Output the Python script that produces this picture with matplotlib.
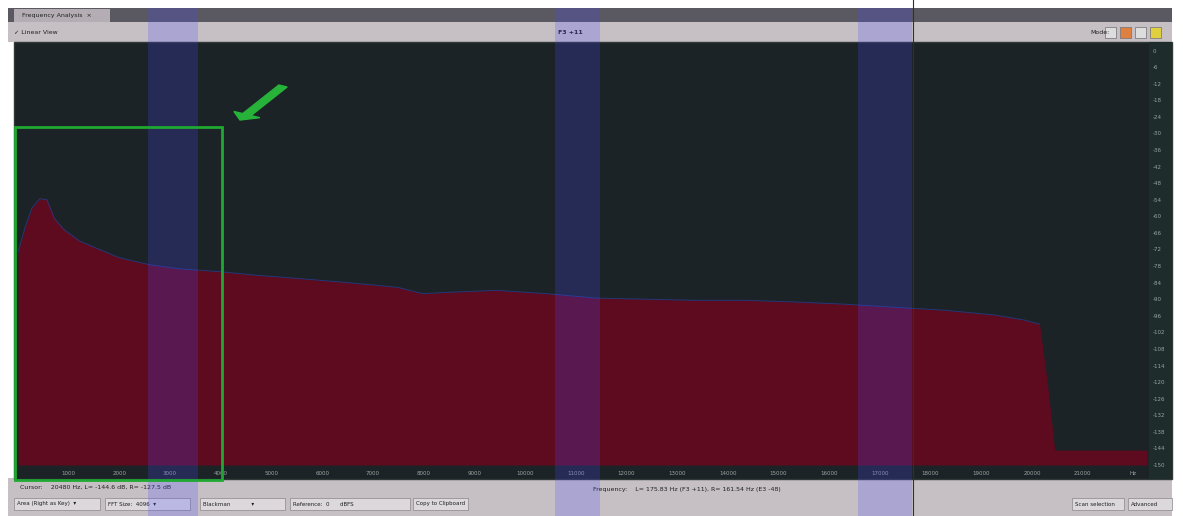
import matplotlib

matplotlib.use("Agg")
import matplotlib.pyplot as plt
from matplotlib.patches import Rectangle, FancyArrow

# spectrum (Hz, dB)
freq_hz = [0, 140, 275, 430, 570, 725, 920, 1220, 1610, 2000, 2590, 3180,
           3960, 4750, 5530, 6510, 7490, 7980, 8470, 9450, 10430, 11410,
           12390, 13370, 14350, 15330, 16310, 17290, 18280, 19260, 19840,
           20150, 20300, 20450, 22270]
level_db = [-73, -64, -57, -53.6, -54, -61, -65, -69, -72, -75, -77.5, -79,
            -80, -81.4, -82.5, -84, -85.7, -88, -87.5, -86.8, -88, -89.6,
            -90, -90.4, -90.4, -91, -91.8, -92.9, -94, -95.7, -97.5, -99,
            -119.6, -144.6, -144.6]

x_ticks = list(range(1000, 22000, 1000))
y_ticks = list(range(0, -151, -6))

W, H = 1183, 516
BG = "#1c2326"
CHROME = "#c6c0c5"


def fx(px):
    return px / W


def fy(py):
    return 1 - py / H


fig = plt.figure(figsize=(W / 100, H / 100), dpi=100)
fig.patch.set_facecolor("white")


def box(x0, y0, x1, y1, **kw):
    fig.patches.append(Rectangle((fx(x0), fy(y1)), fx(x1 - x0), (y1 - y0) / H,
                                 transform=fig.transFigure, **kw))


# window chrome
box(8, 8, 1172, 42, facecolor=CHROME, edgecolor="none")
box(8, 8, 1172, 22, facecolor="#5a5860", edgecolor="none")
box(14, 9, 110, 22, facecolor="#b4aeb4", edgecolor="none")
box(8, 478, 1172, 516, facecolor=CHROME, edgecolor="none")
box(14, 42, 1172, 479, facecolor=BG, edgecolor="#303838")
box(1149, 42, 1172, 479, facecolor="#1f2c2c", edgecolor="none")

ax = fig.add_axes([fx(18), fy(465), fx(1147 - 18), (465 - 45) / H])
ax.set_zorder(2)
ax.set_facecolor(BG)
ax.fill_between(freq_hz, level_db, -150, color="#5e0a1f", lw=0)
ax.plot(freq_hz[:32], level_db[:32], color="#2a3a8a", lw=0.7, alpha=0.8)
ax.set_xlim(0, 22270)
ax.set_ylim(-150, 2)
ax.yaxis.tick_right()
ax.set_xticks(x_ticks + [22000])
ax.set_xticklabels([str(v) for v in x_ticks] + ["Hz"])
ax.set_yticks(y_ticks)
ax.set_yticklabels([str(v) for v in y_ticks])
ax.tick_params(colors="#9aa4a4", labelsize=4, length=0, pad=4)
for s in ax.spines.values():
    s.set_visible(False)

# chrome text
t = dict(fontsize=4.5, color="#202020")
fig.text(fx(22), fy(15), "Frequency Analysis  \u00d7", va="center", **t)
fig.text(fx(14), fy(32), "\u2713 Linear View", va="center", **t)
fig.text(fx(570), fy(32), "F3 +11", va="center", ha="center", fontsize=4.5,
         color="#202020", weight="bold")
fig.text(fx(1090), fy(32), "Mode:", va="center", **t)
for i, c in enumerate(["#dddddd", "#e08040", "#dddddd", "#e0d040"]):
    box(1105 + i * 15, 27, 1116 + i * 15, 38, facecolor=c, edgecolor="#707070", lw=0.5)
fig.text(fx(20), fy(487), "Cursor:    20480 Hz, L= -144.6 dB, R= -127.5 dB", va="center", **t)
fig.text(fx(593), fy(489), "Frequency:    L= 175.83 Hz (F3 +11), R= 161.54 Hz (E3 -48)",
         va="center", **t)
ctrl = [(14, 100, "Area (Right as Key)  \u25be"), (105, 190, "FFT Size:  4096  \u25be"),
        (200, 285, "Blackman            \u25be"), (290, 410, "Reference:  0      dBFS"),
        (413, 468, "Copy to Clipboard"), (1072, 1124, "Scan selection"),
        (1128, 1172, "Advanced")]
for x0, x1, lab in ctrl:
    box(x0, 498, x1, 510, facecolor="#dcd8dc", edgecolor="#8a868a", lw=0.5)
    fig.text(fx(x0 + 3), fy(504), lab, va="center", fontsize=4, color="#202020")

# scan artefacts: blue bands and a dark vertical line
for x0, x1 in [(148, 198), (555, 600), (858, 912)]:
    box(x0, 8, x1, 516, facecolor="#4a4aff", edgecolor="none", alpha=0.22, zorder=5)
fig.add_artist(plt.Line2D([fx(913)] * 2, [0, 1], transform=fig.transFigure,
                          color="#303030", lw=0.8, zorder=5))

# green highlight box and arrow
box(15, 127, 222, 480, facecolor="none", edgecolor="#1fa832", lw=2, zorder=6)
fig.patches.append(FancyArrow(fx(283), fy(86), fx(240 - 283), (86 - 120) / H,
                              width=0.008, head_width=0.025, head_length=0.012,
                              length_includes_head=True, color="#27b33a",
                              transform=fig.transFigure, zorder=6))

fig.savefig("out.png", dpi=100, facecolor=fig.get_facecolor())
